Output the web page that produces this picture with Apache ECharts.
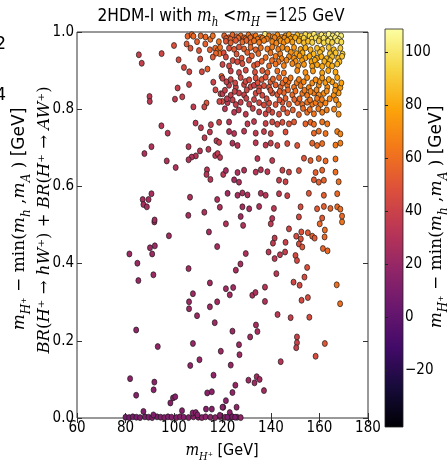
<!DOCTYPE html>
<html>
<head>
<meta charset="utf-8">
<script src="https://cdn.jsdelivr.net/npm/echarts@6/dist/echarts.min.js"></script>
<style>html,body{margin:0;padding:0;background:#fff;}#c{width:447px;height:465px;}</style>
</head>
<body>
<div id="c"></div>
<script>
// tick labels
const xTicks = [60, 80, 100, 120, 140, 160, 180];
const yTicks = [0.0, 0.2, 0.4, 0.6, 0.8, 1.0];
const cbTicks = [-20, 0, 20, 40, 60, 80, 100];
const cbRange = [-41.5, 108.7];

// points: [m_H+ (GeV), BR(H+->hW+)+BR(H+->AW+), m_H+ - min(m_h,m_A) (GeV)]
const bottomRow = [[80,0.002,8],[81.5,0.001,8],[83,0.003,9],[84.5,0.002,9],[86,0.001,10],[88,0.003,10],[89.5,0.002,10],[91,0.001,11],[93,0.003,11],[94.5,0.002,12],[96,0.001,12],[97.5,0.003,12],[99,0.002,12],[101,0.001,13],[102.5,0.003,13],[104,0.002,13],[106,0.001,14],[108,0.003,14],[110,0.002,14],[111.5,0.001,15],[113,0.003,15],[115,0.002,15],[117,0.001,16],[119,0.003,16],[121,0.002,16],[122.5,0.001,17],[124,0.003,17],[126,0.002,17],[127.5,0.001,18]];

const leftUpper = [[85.5,0.941,38],[86.7,0.919,38],[94.9,0.944,42],[100,0.965,48],[105.6,0.989,56],[107.3,0.993,58],[108,0.989,58],[105.2,0.969,52],[106.8,0.958,50],[110.3,0.952,50],[113,0.987,58],[112.9,0.969,54],[115,0.981,60],[114.8,0.954,54],[117,0.958,58],[118,0.952,60],[118.8,0.944,62],[117.3,0.945,56],[101.9,0.928,44],[104.1,0.908,44],[106.3,0.897,42],[111.5,0.897,44],[113.8,0.904,54],[116.2,0.87,40],[117.1,0.85,42],[119.2,0.84,44],[119.9,0.82,46],[118.7,0.82,42],[119.6,0.885,56],[101.5,0.855,38],[106.2,0.864,40],[89.9,0.833,34],[90,0.82,34],[100.4,0.826,36],[103.4,0.832,38],[113.4,0.816,50],[112.5,0.806,42],[108,0.806,36],[94.8,0.757,32],[97.4,0.738,32],[108.9,0.764,34],[111.1,0.752,36],[115.2,0.76,38],[118.6,0.766,40],[114.8,0.741,36],[112.6,0.726,36],[117.5,0.718,36],[118.6,0.714,38],[90.7,0.703,30],[87.8,0.685,28],[106,0.703,32],[110.7,0.692,32],[109,0.679,32],[107.3,0.676,30],[106,0.669,30],[114.2,0.696,34],[117,0.68,34],[118,0.685,36],[119,0.675,34],[97,0.666,30],[100.7,0.649,30],[113.6,0.643,32],[113.4,0.631,32],[115,0.618,32],[120.3,0.631,34],[90.7,0.581,26],[87.1,0.566,26],[89.5,0.566,26],[87.4,0.553,26],[88.8,0.547,26],[106.6,0.572,28],[117.8,0.566,28],[118.9,0.546,28],[112.5,0.533,28],[105.9,0.525,26],[92,0.513,24],
[109.5,0.975,54],[111,0.99,58],[116,0.99,60],[118.5,0.975,62],[116,0.935,52],[119,0.96,60],[110.8,0.93,46]];

const leftLower = [[91.9,0.508,24],[97.9,0.472,24],[114.4,0.482,26],[81.6,0.425,22],[84.9,0.401,22],[90.1,0.441,22],[92.1,0.446,22],[91,0.425,22],[91.5,0.371,22],[85.3,0.356,20],[117.8,0.444,26],[106,0.387,24],[114.8,0.35,24],[107.8,0.322,22],[106.2,0.301,22],[106.2,0.283,22],[117.8,0.301,24],[114.8,0.288,22],[109.5,0.265,22],[116.8,0.247,22],[84.4,0.228,18],[93.3,0.185,18],[107.8,0.193,20],[119.3,0.173,22],[110.5,0.151,20],[106.7,0.136,18],[116.3,0.111,18],[81.9,0.102,16],[91.9,0.093,16],[91.6,0.073,16],[84.4,0.059,14],[113.7,0.065,16],[115.6,0.068,16],[98.5,0.039,14],[99.6,0.052,14],[100.5,0.055,14],[87.4,0.017,12],[91.5,0.008,12],[103.3,0.019,14],[107.7,0.013,14],[109,0.014,14],[109.7,0.008,14],[113.2,0.023,14],[115.6,0.023,14],[120.3,0.028,16],[118.9,0.007,14]];

const rightLower = [[121.4,0.503,30],[128.5,0.499,30],[139.9,0.503,36],[147.4,0.49,42],[152.5,0.482,48],[150.4,0.471,46],[152.3,0.464,48],[151.5,0.451,46],[152.9,0.443,50],[155.2,0.48,52],[157,0.471,54],[158,0.466,52],[160.1,0.503,58],[162.2,0.487,60],[162.1,0.469,58],[161.4,0.439,56],[163.3,0.433,58],[169.3,0.508,62],[141.5,0.466,36],[140.8,0.453,36],[146,0.455,40],[139,0.43,34],[141.5,0.413,34],[143.7,0.423,36],[145.8,0.43,38],[150.1,0.421,44],[150.7,0.408,44],[129.6,0.426,28],[127.4,0.399,26],[125.5,0.383,26],[154.9,0.39,48],[142.2,0.374,34],[153.8,0.365,46],[151.8,0.344,44],[149.3,0.352,42],[167.1,0.345,60],[121.4,0.335,24],[124.4,0.338,24],[123,0.319,24],[132.3,0.318,28],[133.6,0.325,28],[137.5,0.339,32],[137.5,0.302,30],[152.6,0.305,44],[155.2,0.312,46],[168.5,0.296,60],[142.7,0.268,34],[148.1,0.26,38],[155.8,0.261,46],[133.8,0.241,26],[134.4,0.224,26],[124.1,0.225,22],[131.4,0.21,24],[126.8,0.19,22],[127,0.164,22],[150.7,0.21,40],[150.7,0.195,40],[150.4,0.182,38],[162.2,0.193,50],[158.4,0.16,46],[144,0.146,32],[123.4,0.137,20],[134.1,0.107,24],[135.3,0.1,24],[133.2,0.091,22],[130.7,0.098,22],[125.3,0.085,20],[124.1,0.066,18],[137.1,0.071,24],[121.4,0.045,16],[120,0.028,16],[125.8,0.028,18],[123,0.014,16],[124,0.003,10],[125.2,0.002,10],[122,0.002,10]];

const rightMid = [[124.8,0.792,34],[129.6,0.787,36],[135.1,0.793,40],[137.8,0.788,42],[140.5,0.792,46],[143.3,0.787,48],[146.7,0.791,52],[151.5,0.786,56],[154.9,0.792,60],[157.7,0.788,62],[161.1,0.792,66],[167.9,0.787,70],
[122.7,0.767,32],[130.3,0.762,36],[133,0.768,36],[137.8,0.763,40],[140.5,0.767,44],[142.6,0.761,46],[144.7,0.766,48],[147.4,0.762,50],[149.5,0.767,52],[154.2,0.762,56],[156.3,0.766,58],[157.7,0.761,60],[161.1,0.767,62],[163.2,0.762,64],
[122.7,0.742,30],[124.8,0.737,32],[128.9,0.743,34],[133.7,0.738,36],[137.1,0.742,38],[139.9,0.737,42],[146,0.741,48],[157.7,0.738,58],[159.7,0.743,60],[162.5,0.737,62],[167.3,0.742,66],[168.6,0.736,68],
[124.1,0.712,30],[126.2,0.706,32],[133.7,0.713,34],[137.8,0.707,36],[139.9,0.712,38],[142.6,0.706,42],[146.7,0.711,46],[150.8,0.706,50],[157,0.712,56],[159,0.706,58],[161.1,0.711,60],[166.6,0.707,64],[168.6,0.712,66],
[134.4,0.672,32],[140.5,0.667,36],[153.6,0.673,50],[156.3,0.667,54],[159.7,0.672,56],[162.5,0.666,58],[166.6,0.671,62],
[121.4,0.641,26],[126.2,0.636,28],[128.9,0.642,30],[133.7,0.637,32],[135.8,0.643,32],[138.5,0.638,34],[144.7,0.642,40],[147.4,0.637,42],[151.5,0.641,48],[158.4,0.636,54],[161.1,0.642,56],[166.6,0.637,60],
[124.8,0.617,26],[126.8,0.611,28],[143.3,0.616,38],[146,0.612,40],[157.7,0.617,52],[159.7,0.611,54],[161.8,0.616,56],[167.9,0.612,60],
[122.1,0.582,24],[126.2,0.577,26],[128.2,0.583,28],[130.3,0.578,28],[135.8,0.582,30],[137.8,0.577,32],[143.3,0.581,36],[146.7,0.576,40],[155.6,0.582,50],[161.8,0.577,54],[167.3,0.581,58],
[128.2,0.547,26],[131,0.542,26],[135.1,0.548,28],[141.2,0.543,34],[152.2,0.547,46],[159,0.542,52],[161.8,0.548,54],[164.5,0.543,56],[167.3,0.547,58],[168.6,0.541,60],
[127.5,0.522,24],[140.5,0.517,32],[151.5,0.521,44],[161.1,0.518,52],[169.3,0.523,58]];

const rightUpper = [[122.7,0.862,38],[125.5,0.857,40],[128.9,0.864,42],[131.6,0.858,44],[133,0.862,40],[135.1,0.856,46],[137.1,0.861,48],[139.2,0.857,50],[141.9,0.863,54],[144,0.858,56],[146.7,0.862,60],[149.5,0.857,62],[152.2,0.861,64],[155.6,0.856,66],[159.7,0.862,70],[163.2,0.857,72],[166.6,0.861,74],[168.6,0.856,76],
[120,0.84,36],[123.4,0.836,38],[126.8,0.842,40],[128.9,0.837,40],[133.7,0.841,44],[136.4,0.836,46],[140.5,0.842,50],[142.6,0.838,52],[145.3,0.843,56],[148.8,0.837,58],[152.9,0.841,62],[154.9,0.836,64],[157.7,0.842,66],[159.7,0.837,68],[161.8,0.841,70],[165.9,0.836,72],[167.9,0.842,74],
[122.1,0.817,36],[125.5,0.812,38],[127.5,0.818,38],[131,0.813,40],[135.1,0.817,44],[137.1,0.811,46],[139.2,0.816,48],[141.9,0.812,50],[144.7,0.818,52],[147.4,0.813,56],[150.8,0.817,58],[152.9,0.812,60],[154.9,0.818,62],[157,0.813,64],[158.4,0.817,64],[160.4,0.812,66],[162.5,0.816,68],[167.9,0.812,72],
[121.6,0.871,40],[125.2,0.868,42],[129.5,0.872,44],[134.5,0.869,48],[139.8,0.871,54],[144.8,0.868,58],[147.3,0.872,62],[150.6,0.869,64],[153.5,0.871,68],[157,0.868,70],[160,0.872,72],[162.4,0.869,74],[165.2,0.871,76],[169,0.868,78],
[121,0.849,38],[125,0.846,40],[130,0.85,42],[135,0.847,46],[139.8,0.849,50],[143.6,0.846,54],[147,0.85,58],[150.1,0.847,60],[153.8,0.849,64],[156.3,0.846,66],[158.8,0.85,68],[163,0.847,70],[166.4,0.849,72],
[121.8,0.827,36],[124.2,0.824,38],[129.8,0.828,40],[133,0.825,42],[138.2,0.827,46],[143.5,0.824,50],[146,0.828,54],[149.6,0.825,56],[151.8,0.827,58],[156.1,0.824,62],[159,0.828,64],[161,0.825,66],[164.2,0.827,68],[166.8,0.824,70],
[121,0.801,34],[126.7,0.798,36],[132.5,0.802,40],[139,0.799,44],[145,0.801,50],[149,0.798,54],[153.2,0.802,58],[156,0.799,60],[159.5,0.801,64],[163,0.798,66],[166,0.8,68]];

const denseTop = [[120.7,0.99,55],[122.5,0.985,52],[124.1,0.992,58],[125.8,0.988,55],[127.5,0.99,60],[128.9,0.985,57],[130.7,0.992,62],[132.3,0.988,60],[133.7,0.99,64],[135.8,0.986,66],[137.5,0.994,100],[139.2,0.99,66],[140.8,0.988,68],[142.6,0.992,70],[144.4,0.986,72],[146,0.99,72],[147.4,0.993,76],[149,0.987,78],[150.8,0.992,86],[152.6,0.989,90],[154.2,0.993,96],[155.9,0.99,94],[157.7,0.994,100],[159.5,0.988,94],[160.8,0.992,102],[162.5,0.99,98],[163.8,0.994,104],[165.5,0.99,100],[167.3,0.993,105],[168.9,0.99,102],
[121.5,0.983,54],[123.3,0.981,56],[126.5,0.984,58],[129.5,0.982,60],[131.5,0.985,60],[134.5,0.981,64],[136.5,0.984,66],[138.3,0.982,66],[141.5,0.985,68],[143.5,0.981,70],[145.5,0.984,72],[148,0.982,76],[150,0.985,82],[151.8,0.981,86],[153.5,0.984,92],[156.8,0.982,96],[158.5,0.985,98],[160,0.981,96],[161.7,0.984,100],[164.5,0.982,102],[166.5,0.985,100],[168,0.981,104],
[121.4,0.976,50],[123.4,0.972,55],[125.5,0.978,52],[128.2,0.974,58],[129.9,0.978,56],[131.6,0.972,60],[133,0.977,62],[135.1,0.973,64],[137.1,0.978,66],[140.5,0.975,68],[142.2,0.971,68],[144,0.977,72],[145.3,0.973,72],[146.7,0.978,74],[148.8,0.974,76],[151.5,0.977,82],[153.6,0.972,86],[155.3,0.976,86],[157,0.973,92],[159.7,0.977,90],[161.8,0.972,94],[163.6,0.976,96],[165.2,0.973,92],[167.3,0.977,98],[169,0.974,96],
[122.7,0.958,48],[124.8,0.955,52],[126.8,0.961,50],[128.9,0.956,55],[131.6,0.96,58],[133.7,0.954,56],[135.8,0.959,62],[138.5,0.956,64],[140.5,0.961,66],[143,0.955,66],[144.7,0.96,70],[146.7,0.956,72],[149.5,0.96,74],[152.2,0.955,78],[154.2,0.959,82],[156.3,0.954,82],[159,0.958,86],[161.1,0.955,84],[163.8,0.96,88],[165.9,0.954,86],[168.6,0.958,90],
[120.5,0.946,46],[125.8,0.943,50],[130.2,0.947,54],[134.8,0.944,58],[139.8,0.946,62],[143.8,0.943,66],[148.2,0.947,72],[150.5,0.944,76],[153,0.946,80],[157.6,0.943,84],[160.2,0.947,86],[164.3,0.944,86],[166.7,0.946,88],[169.5,0.943,90],
[121.4,0.935,44],[127.9,0.932,50],[132.1,0.938,54],[137.8,0.934,60],[141.9,0.937,64],[144.4,0.931,68],[147.4,0.936,70],[149.5,0.932,72],[151.8,0.938,76],[154.2,0.933,78],[155.9,0.937,80],[159,0.932,80],[160.8,0.936,82],[162.9,0.931,84],[165.2,0.936,86],[167.7,0.932,84],[169.3,0.937,88],
[124.2,0.926,46],[126.1,0.923,46],[130.9,0.927,50],[136.2,0.924,56],[140.4,0.926,60],[143.1,0.923,62],[146.4,0.927,68],[150.2,0.924,72],[152.8,0.926,76],[156.7,0.923,78],[158.1,0.927,80],[162,0.924,82],[164.4,0.926,84],[168.2,0.923,86],
[120,0.916,42],[122.7,0.912,44],[128.2,0.918,48],[133,0.913,52],[134.4,0.917,50],[139.2,0.912,58],[141.9,0.917,62],[145.3,0.913,66],[148.8,0.918,68],[151.2,0.912,72],[153.6,0.916,74],[157,0.911,76],[159,0.915,78],[161.1,0.911,80],[163.6,0.916,80],[165.2,0.912,82],[167.3,0.917,84],
[123.4,0.899,40],[126.8,0.895,42],[129.6,0.901,45],[133.4,0.896,48],[136.4,0.9,52],[138.5,0.895,55],[142.6,0.899,60],[145.3,0.894,62],[150.8,0.9,68],[154.2,0.895,72],[157.3,0.899,74],[161.1,0.894,78],[163.6,0.9,78],[166.6,0.896,80],
[120,0.88,40],[123.4,0.877,42],[127.5,0.882,44],[131,0.876,46],[133.7,0.881,48],[136.2,0.877,50],[137.8,0.883,50],[140.8,0.878,56],[143.3,0.882,58],[146,0.876,62],[148.1,0.881,64],[151.5,0.877,66],[154.9,0.882,70],[158.4,0.876,72],[161.1,0.881,74],[163.8,0.877,76],[167.3,0.882,78]];

const inferno = ['#000004','#160b39','#420a68','#6a176e','#932667','#bc3754','#dd513a','#f37819','#fca50a','#f6d746','#fcffa4'];

const allPoints = [].concat(bottomRow, leftLower, leftUpper, rightLower, rightMid, rightUpper, denseTop);

const serif = "'DejaVu Serif'";
const sans = "'DejaVu Sans'";
function richSet(fs) {
  return {
    it: {fontFamily: serif, fontStyle: 'italic', fontSize: fs, lineHeight: fs + 8, verticalAlign: 'middle', fill: '#000'},
    rm: {fontFamily: serif, fontSize: fs, lineHeight: fs + 8, verticalAlign: 'middle', fill: '#000'},
    sub: {fontFamily: serif, fontStyle: 'italic', fontSize: Math.round(fs * 0.68), lineHeight: Math.round(fs * 0.75), verticalAlign: 'bottom', fill: '#000'},
    sans: {fontFamily: sans, fontSize: fs, lineHeight: fs + 8, verticalAlign: 'middle', fill: '#000'}
  };
}
const tickFont = {fontFamily: "'Liberation Sans Narrow', 'DejaVu Sans Condensed', 'DejaVu Sans'", fontSize: 15, color: '#000'};

const chart = echarts.init(document.getElementById('c'), null, {renderer: 'canvas'});
const option = {
  animation: false,
  backgroundColor: '#fff',
  grid: [
    {left: 77, top: 32, width: 291, height: 386, show: true, borderColor: '#333', borderWidth: 1, backgroundColor: 'transparent'},
    {left: 385, top: 29, width: 18, height: 398, show: true, borderColor: '#222', borderWidth: 0.8,
     backgroundColor: {type: 'linear', x: 0, y: 1, x2: 0, y2: 0,
       colorStops: inferno.map((c, i) => ({offset: i / (inferno.length - 1), color: c}))}}
  ],
  xAxis: [
    {gridIndex: 0, type: 'value', min: xTicks[0], max: xTicks[xTicks.length - 1], interval: 20, position: 'bottom',
     axisLine: {show: false}, axisTick: {inside: true, length: 5, lineStyle: {color: '#333'}},
     splitLine: {show: false}, axisLabel: Object.assign({margin: 3}, tickFont)},
    {gridIndex: 0, type: 'value', min: xTicks[0], max: xTicks[xTicks.length - 1], interval: 20, position: 'top',
     axisLine: {show: false}, axisTick: {inside: true, length: 5, lineStyle: {color: '#333'}},
     splitLine: {show: false}, axisLabel: {show: false}},
    {gridIndex: 1, type: 'value', min: 0, max: 1, show: false}
  ],
  yAxis: [
    {gridIndex: 0, type: 'value', min: yTicks[0], max: yTicks[yTicks.length - 1], interval: 0.2, position: 'left',
     axisLine: {show: false}, axisTick: {inside: true, length: 5, lineStyle: {color: '#333'}},
     splitLine: {show: false}, axisLabel: Object.assign({margin: 3, formatter: v => v.toFixed(1)}, tickFont)},
    {gridIndex: 0, type: 'value', min: yTicks[0], max: yTicks[yTicks.length - 1], interval: 0.2, position: 'right',
     axisLine: {show: false}, axisTick: {inside: true, length: 5, lineStyle: {color: '#333'}},
     splitLine: {show: false}, axisLabel: {show: false}},
    {gridIndex: 1, type: 'value', min: cbRange[0], max: cbRange[1], position: 'right',
     axisLine: {show: false}, splitLine: {show: false},
     axisTick: {show: true, length: 3, customValues: cbTicks, lineStyle: {color: '#222'}},
     axisLabel: Object.assign({margin: 2, customValues: cbTicks, formatter: v => (v < 0 ? '\u2212' + Math.abs(v) : '' + v)}, tickFont)}
  ],
  visualMap: {type: 'continuous', show: false, dimension: 2, seriesIndex: 0, min: cbRange[0], max: cbRange[1], inRange: {color: inferno}},
  series: [{
    type: 'scatter', xAxisIndex: 0, yAxisIndex: 0, data: allPoints,
    symbol: 'circle', symbolSize: [5, 6],
    itemStyle: {borderColor: '#1a1a1a', borderWidth: 0.7, opacity: 1}
  }],
  graphic: [
    {type: 'text', x: 221, y: 16, scaleX: 0.86, style: {text: '{sans|2HDM-I with }{it|m}{sub|h}{rm| <}{it|m}{sub|H}{rm| =125}{sans| GeV}', rich: richSet(18), align: 'center', verticalAlign: 'middle'}},
    {type: 'text', x: 222, y: 451, scaleX: 0.9, style: {text: '{it|m}{sub|H\u207A}{sans| [GeV]}', rich: richSet(16), align: 'center', verticalAlign: 'middle'}},
    {type: 'text', x: 20, y: 219, rotation: Math.PI / 2, style: {text: '{it|m}{sub|H\u207A}{rm| \u2212 min(}{it|m}{sub|h}{rm| ,}{it|m}{sub|A}{rm| )}{sans| [GeV]}', rich: richSet(17), align: 'center', verticalAlign: 'middle'}},
    {type: 'text', x: 45, y: 220, rotation: Math.PI / 2, style: {text: '{it|BR}{rm|(}{it|H}{rm|\u207A \u2192 }{it|hW}{rm|\u207A) + }{it|BR}{rm|(}{it|H}{rm|\u207A \u2192 }{it|AW}{rm|\u207A)}', rich: richSet(16.5), align: 'center', verticalAlign: 'middle'}},
    {type: 'text', x: 437, y: 217, rotation: Math.PI / 2, style: {text: '{it|m}{sub|H\u207A}{rm| \u2212 min(}{it|m}{sub|h}{rm| ,}{it|m}{sub|A}{rm| )}{sans| [GeV]}', rich: richSet(17), align: 'center', verticalAlign: 'middle'}},
    {type: 'text', x: 6, y: 45, style: {text: '2', font: "17px 'DejaVu Sans'", fill: '#000', align: 'right', verticalAlign: 'middle'}},
    {type: 'text', x: 6, y: 96, style: {text: '4', font: "17px 'DejaVu Sans'", fill: '#000', align: 'right', verticalAlign: 'middle'}}
  ]
};
chart.setOption(option);
</script>
</body>
</html>
